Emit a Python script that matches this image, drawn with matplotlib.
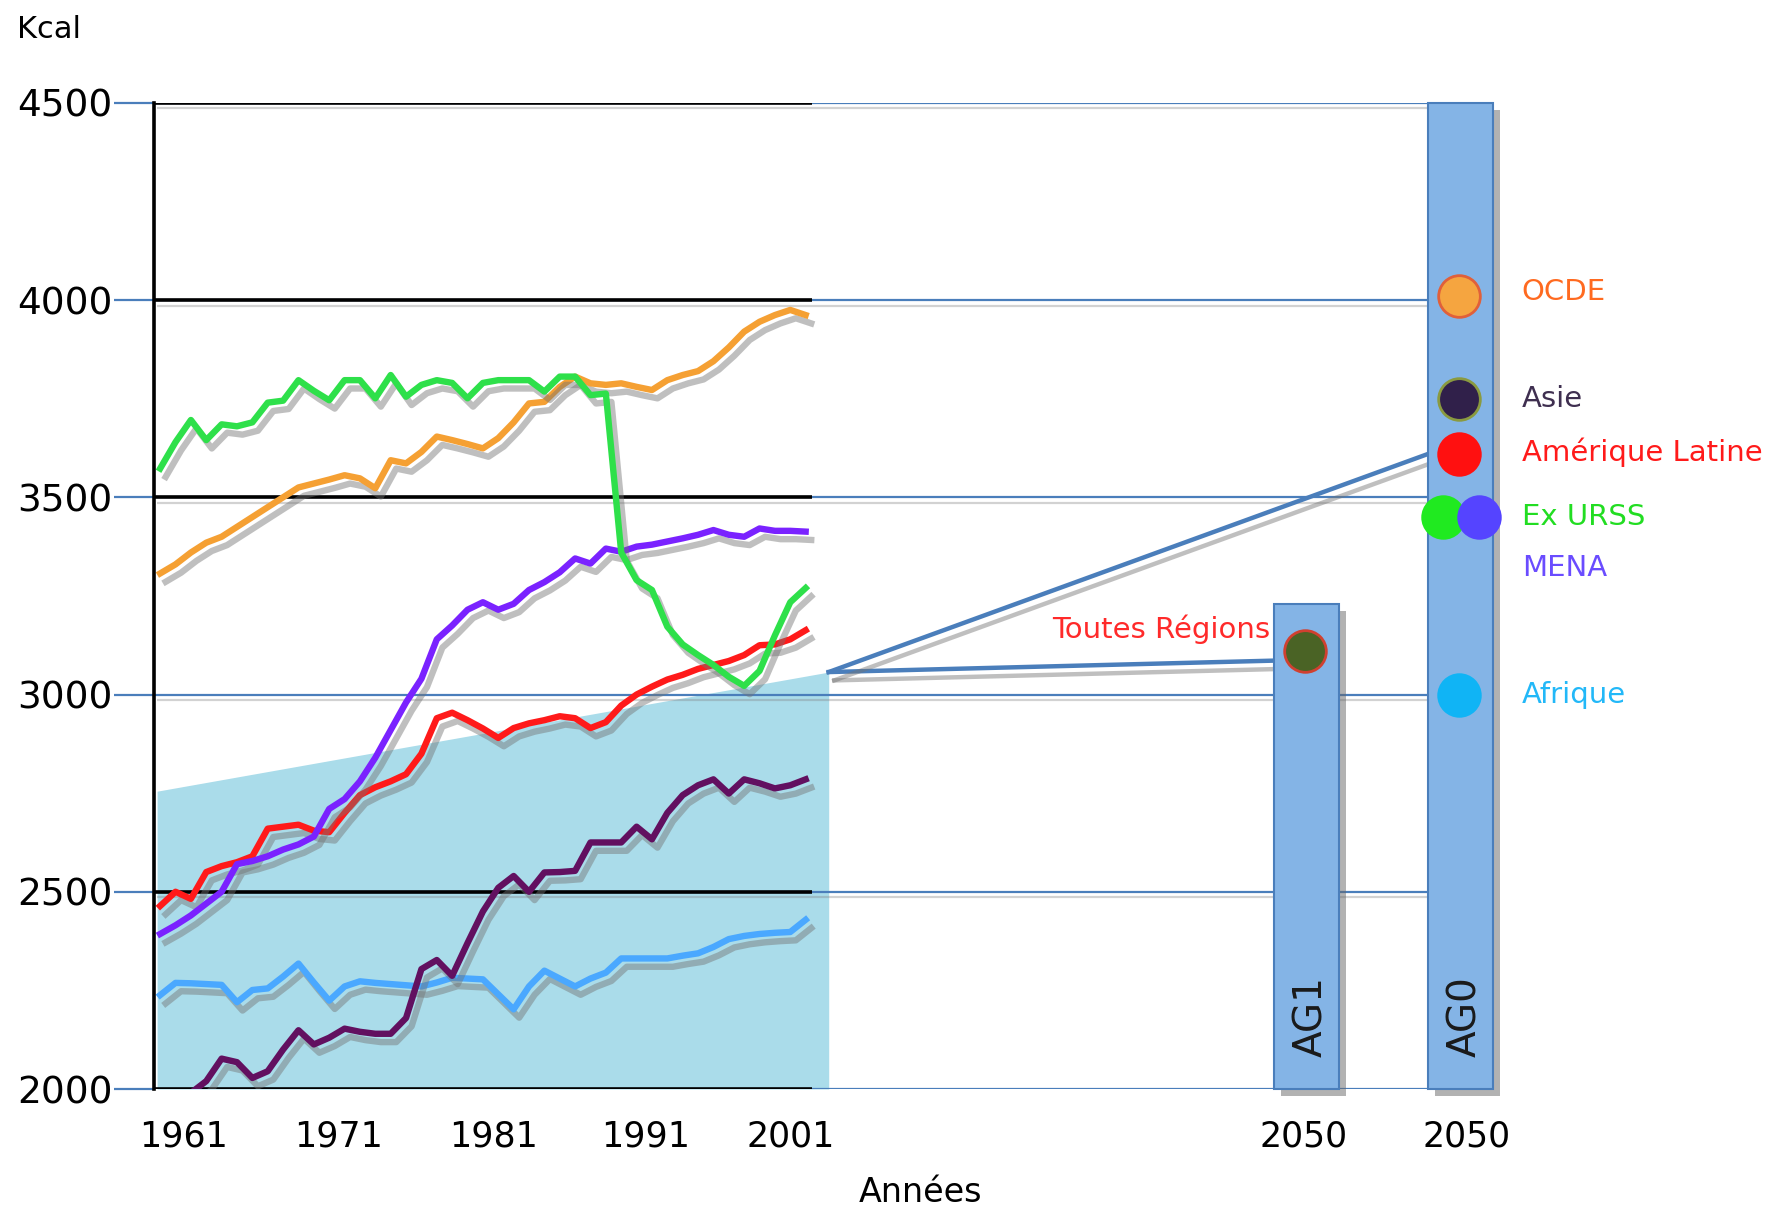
import matplotlib
matplotlib.use('Agg')
import matplotlib.pyplot as plt
import matplotlib.patheffects as pe

# disponibilites alimentaires (Kcal / hab / jour), 1961-2003
years = list(range(1961, 2004))

ocde = [3307, 3330, 3360, 3385, 3400, 3425, 3450, 3475, 3500, 3525, 3535, 3545, 3556, 3548, 3523,
        3594, 3586, 3615, 3654, 3645, 3635, 3624, 3650, 3690, 3738, 3742, 3780, 3806, 3789, 3785,
        3789, 3780, 3772, 3797, 3810, 3820, 3845, 3880, 3920, 3945, 3962, 3975, 3962]
ex_urss = [3573, 3640, 3696, 3645, 3685, 3680, 3690, 3740, 3745, 3797, 3770, 3746, 3797, 3797, 3751,
           3810, 3755, 3785, 3797, 3790, 3751, 3790, 3797, 3797, 3797, 3768, 3806, 3806, 3759, 3763,
           3360, 3290, 3265, 3172, 3127, 3100, 3075, 3045, 3022, 3060, 3150, 3234, 3270]
mena = [2393, 2415, 2440, 2470, 2500, 2570, 2578, 2590, 2607, 2620, 2640, 2710, 2735, 2780, 2840,
        2910, 2980, 3040, 3140, 3175, 3215, 3234, 3215, 3230, 3265, 3285, 3310, 3345, 3332, 3370,
        3362, 3375, 3380, 3388, 3396, 3405, 3417, 3405, 3400, 3421, 3415, 3415, 3413]
am_latine = [2464, 2500, 2482, 2550, 2565, 2575, 2590, 2660, 2665, 2670, 2655, 2651, 2700, 2745, 2765,
             2780, 2798, 2850, 2940, 2954, 2935, 2914, 2890, 2915, 2927, 2935, 2945, 2940, 2915, 2930,
             2972, 3000, 3020, 3038, 3050, 3065, 3075, 3085, 3100, 3125, 3127, 3140, 3163]
asie = [1950, 1970, 1990, 2020, 2077, 2068, 2028, 2045, 2100, 2149, 2113, 2130, 2153, 2145, 2140,
        2140, 2180, 2304, 2327, 2287, 2370, 2450, 2510, 2540, 2500, 2549, 2550, 2553, 2625, 2625,
        2625, 2665, 2633, 2700, 2745, 2770, 2785, 2749, 2785, 2775, 2762, 2770, 2785]
afrique = [2238, 2269, 2268, 2266, 2264, 2220, 2251, 2255, 2285, 2318, 2270, 2224, 2260, 2273, 2269,
           2266, 2263, 2260, 2270, 2282, 2280, 2278, 2240, 2202, 2260, 2300, 2280, 2260, 2280, 2295,
           2331, 2331, 2331, 2331, 2338, 2344, 2360, 2380, 2388, 2393, 2396, 2398, 2429]

# zone "toutes regions" (bande bleu clair)
shade_years = [1960.8, 2004.5]
shade_top = [2755, 3057]

# scenarios 2050 (positions de la partie droite de l'axe)
ag1_x, ag0_x = 2035.6, 2045.6
bar_width = 4.2
ag1_top, ag0_top = 3230, 4500
toutes_regions_2050 = 3110
ag0_regions = ['OCDE', 'Asie', 'Amérique Latine', 'Ex URSS', 'MENA', 'Afrique']
ag0_values = [4010, 3750, 3610, 3450, 3450, 3000]
ag0_dx = [0, 0, 0, -1.0, 1.3, 0]
label_y = [4020, 3750, 3615, 3450, 3320, 3000]

line_col = {'OCDE': '#f5a033', 'Ex URSS': '#2ee04a', 'MENA': '#7a22ff',
            'Amérique Latine': '#ff1a1a', 'Asie': '#621060', 'Afrique': '#4aa8ff'}
dot_col = {'OCDE': '#f5a540', 'Asie': '#30204a', 'Amérique Latine': '#ff1010',
           'Ex URSS': '#20ea20', 'MENA': '#5544ff', 'Afrique': '#10b4f5'}
dot_edge = {'OCDE': '#e0603a', 'Asie': '#8a9a40', 'Amérique Latine': '#ff1010',
            'Ex URSS': '#20ea20', 'MENA': '#5544ff', 'Afrique': '#10b4f5'}
txt_col = {'OCDE': '#ff6a20', 'Asie': '#3f2f50', 'Amérique Latine': '#ff1a1a',
           'Ex URSS': '#22dd22', 'MENA': '#6a4cff', 'Afrique': '#22b8f8'}

blue = '#4a7ebb'
shadow = [pe.SimpleLineShadow(offset=(4, -6), shadow_color='0.45', alpha=0.45), pe.Normal()]

fig = plt.figure(figsize=(17.92, 12.10), dpi=100)
ax = fig.add_axes([154 / 1792, 0.1, (1528 - 154) / 1792, 0.815])
ax.set_xlim(1960.6, 2050)
ax.set_ylim(2000, 4500)

ax.fill_between(shade_years, shade_top, 2000, color='#aadcea', lw=0, zorder=1)

levels = [2000, 2500, 3000, 3500, 4000, 4500]
ax.hlines(levels, 1960.6, ag0_x - bar_width / 2, color=blue, lw=1.6, zorder=2,
          path_effects=[pe.SimpleLineShadow(offset=(2, -4), shadow_color='0.5', alpha=0.35), pe.Normal()])
ax.hlines([l for l in levels if l != 3000], 1960.6, 2003.4, color='black', lw=2.6, zorder=3)

# barres 2050
for x, top in [(ag1_x, ag1_top), (ag0_x, ag0_top)]:
    ax.bar(x, top - 2000, bottom=2000, width=bar_width, color='#84b4e6', edgecolor=blue, lw=1.5,
           zorder=4, clip_on=False,
           path_effects=[pe.SimplePatchShadow(offset=(5, -5), shadow_rgbFace='0.4', alpha=0.5), pe.Normal()])
ax.text(ag1_x + 0.3, 2080, 'AG1', rotation=90, ha='center', va='bottom', fontsize=28, color='#1a1a1a', zorder=6)
ax.text(ag0_x + 0.3, 2080, 'AG0', rotation=90, ha='center', va='bottom', fontsize=28, color='#1a1a1a', zorder=6)

# liaisons de la zone vers 2050
ax.plot([shade_years[1], ag1_x - bar_width / 2], [shade_top[1], 3086], color=blue, lw=3.2, zorder=3,
        path_effects=shadow)
ax.plot([shade_years[1], ag0_x - bar_width / 2], [shade_top[1], ag0_values[2]], color=blue, lw=3.2, zorder=3,
        path_effects=shadow)

series = [('Afrique', afrique), ('Asie', asie), ('Amérique Latine', am_latine), ('MENA', mena),
          ('OCDE', ocde), ('Ex URSS', ex_urss)]
for name, vals in series:
    ax.plot(years, vals, color=line_col[name], lw=4.6, zorder=5, solid_joinstyle='round',
            path_effects=shadow)

# points 2050
ax.scatter([ag1_x - 0.1], [toutes_regions_2050], s=900, color='#4a6325', edgecolor='#d04030', lw=2,
           zorder=7, clip_on=False)
ax.text(ag1_x - bar_width / 2 - 0.3, 3165, 'Toutes Régions', color='#ff2a2a', fontsize=21,
        ha='right', va='center', zorder=7)
for name, v, dx, ly in zip(ag0_regions, ag0_values, ag0_dx, label_y):
    ax.scatter([ag0_x - 0.1 + dx], [v], s=900, color=dot_col[name], edgecolor=dot_edge[name], lw=2,
               zorder=7, clip_on=False)
    ax.text(2049.6, ly, name, color=txt_col[name], fontsize=21, ha='left', va='center',
            clip_on=False, zorder=7)

for s in ['top', 'right', 'bottom']:
    ax.spines[s].set_visible(False)
ax.spines['left'].set_linewidth(2.6)
ax.spines['left'].set_zorder(8)

ax.set_yticks(levels)
ax.set_yticklabels([str(l) for l in levels], fontsize=27)
ax.tick_params(axis='y', length=29, width=1.6, color=blue, pad=1)
ax.set_xticks([1962.5, 1972.6, 1982.7, 1992.6, 2002.0, 2035.4, 2046.0])
ax.set_xticklabels(['1961', '1971', '1981', '1991', '2001', '2050', '2050'], fontsize=25)
ax.tick_params(axis='x', length=0, pad=22)

fig.text(0.0095, 1 - 29 / 1210, 'Kcal', fontsize=22, va='center', ha='left')
fig.text(920 / 1792, 1 - 1192 / 1210, 'Années', fontsize=24, va='center', ha='center')

fig.savefig('out.png', dpi=100)
